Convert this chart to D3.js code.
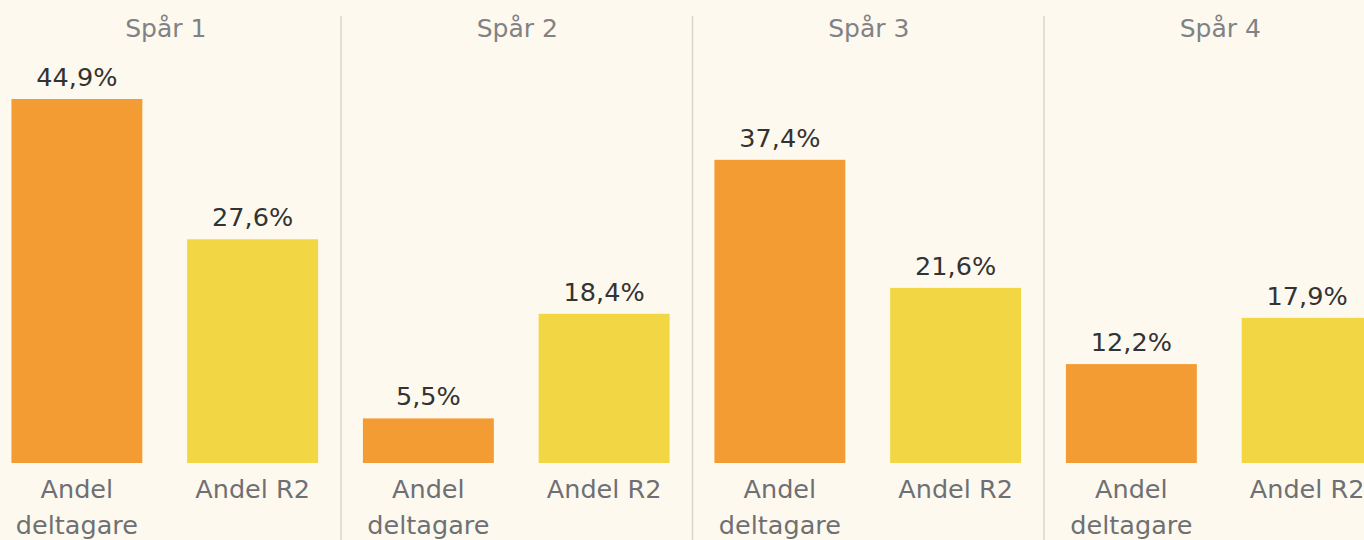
<!DOCTYPE html>
<html lang="sv">
<head>
<meta charset="UTF-8"/>
<title>Andel deltagare och Andel R2 per spår</title>
<script src="https://d3js.org/d3.v7.min.js"></script>
<style>
	body { margin: 0; background: #fef9ef; }
	svg { display: block; font-family: "DejaVu Sans", sans-serif; }
</style>
</head>
<body>
<script>
	var w = 1364;
	var h = 540;

	// data
	var tracks = ["Spår 1", "Spår 2", "Spår 3", "Spår 4"];
	var measures = ["Andel deltagare", "Andel R2"];
	var andelDeltagare = [44.9, 5.5, 37.4, 12.2];
	var andelR2 = [27.6, 18.4, 21.6, 17.9];

	var colors = ["#f39c33", "#f2d643"];
	var panelW = 351.5;
	var baseline = 463;

	var svg = d3.select("body").append("svg")
		.attr("width", w)
		.attr("height", h);

	svg.append("rect").attr("width", w).attr("height", h).attr("fill", "#fef9ef");

	// panels
	var xPanel = d3.scaleBand()
		.domain(tracks)
		.range([-11, -11 + panelW * tracks.length]);

	var xBar = d3.scaleBand()
		.domain(measures)
		.range([0, panelW])
		.paddingInner(0.255)
		.paddingOuter(0.1275);

	var y = d3.scaleLinear()
		.domain([0, 44.9])
		.range([baseline, 99]);

	var fmt = function(v){ return v.toFixed(1).replace(".", ",") + "%"; };

	var panels = svg.selectAll("g.panel")
		.data(tracks)
		.enter()
		.append("g")
		.attr("class", "panel")
		.attr("transform", function(d){ return "translate(" + xPanel(d) + ",0)"; });

	// separators
	panels.filter(function(d, i){ return i > 0; })
		.append("line")
		.attr("x1", 0.5).attr("x2", 0.5)
		.attr("y1", 16).attr("y2", h)
		.attr("stroke", "#d9d6d0")
		.attr("stroke-width", 1.5);

	// titles
	panels.append("text")
		.attr("x", panelW / 2 + 1)
		.attr("y", 37)
		.attr("text-anchor", "middle")
		.attr("font-size", 25)
		.attr("fill", "#808285")
		.text(function(d){ return d; });

	var rows = function(d, i){
		return [
			{ m: measures[0], v: andelDeltagare[i], c: colors[0] },
			{ m: measures[1], v: andelR2[i], c: colors[1] }
		];
	};

	var bars = panels.selectAll("g.bar")
		.data(rows)
		.enter()
		.append("g")
		.attr("class", "bar");

	bars.append("rect")
		.attr("x", function(d){ return xBar(d.m); })
		.attr("y", function(d){ return y(d.v); })
		.attr("width", xBar.bandwidth())
		.attr("height", function(d){ return baseline - y(d.v); })
		.attr("fill", function(d){ return d.c; });

	bars.append("text")
		.attr("x", function(d){ return xBar(d.m) + xBar.bandwidth() / 2; })
		.attr("y", function(d){ return y(d.v) - 13; })
		.attr("text-anchor", "middle")
		.attr("font-size", 25.5)
		.attr("fill", "#333333")
		.text(function(d){ return fmt(d.v); });

	// category labels (wrapped)
	var labels = bars.append("text")
		.attr("text-anchor", "middle")
		.attr("font-size", 25.5)
		.attr("fill", "#6e7073");

	labels.selectAll("tspan")
		.data(function(d){
			var lines = d.m === "Andel deltagare" ? ["Andel", "deltagare"] : [d.m];
			return lines.map(function(t){ return { t: t, x: xBar(d.m) + xBar.bandwidth() / 2 }; });
		})
		.enter()
		.append("tspan")
		.attr("x", function(d){ return d.x; })
		.attr("y", function(d, i){ return 498 + i * 36; })
		.text(function(d){ return d.t; });
</script>
</body>
</html>
